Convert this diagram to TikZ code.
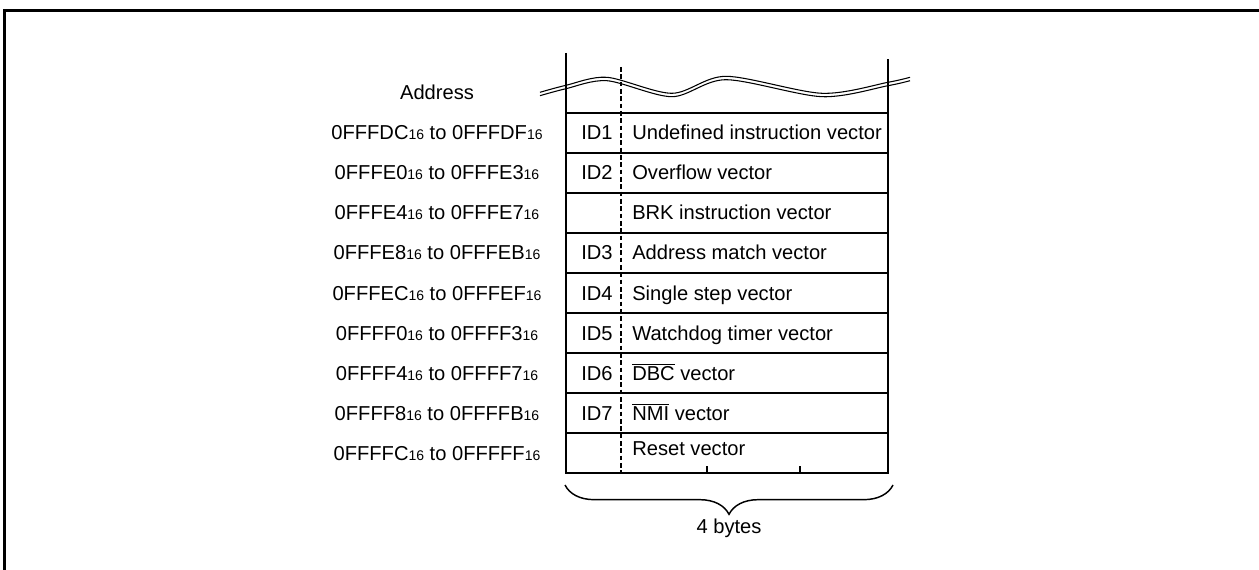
\documentclass[tikz,border=0pt]{standalone}
\usepackage{fontspec}
\setmainfont{Liberation Sans}
\usetikzlibrary{decorations.pathreplacing}

\newcommand{\hexsub}{{\fontsize{10.5}{12}\selectfont 16}}
\newcommand{\barsig}[1]{$\overline{\mbox{#1}}$}

\tikzset{
  txt/.style={font=\fontsize{15.1}{18}\selectfont, inner sep=0pt},
  thickline/.style={line width=2.2pt},
  rowline/.style={line width=1.2pt},
  byteline/.style={line width=1pt, dash pattern=on 3.5pt off 2pt},
  wave/.style={line width=0.8pt},
}

\begin{document}
\begin{tikzpicture}[x=0.75pt,y=-0.75pt]
\useasboundingbox (0,0) rectangle (1259,570);
\draw[line width=2pt] (4.5,570) -- (4.5,10.5) -- (1259,10.5);

\coordinate (TL) at (566,113); \coordinate (TR) at (888,113);
\coordinate (BL) at (566,473); \coordinate (BR) at (888,473);
\coordinate (DT) at (621,67);  \coordinate (DB) at (621,473);

% break in the map
\foreach \s in {-1.7,1.7}
  \draw[wave, yshift=\s*0.75pt] plot[smooth] coordinates {(540,94) (566,87) (607,79) (672,95) (726,78) (822,95) (888,84) (910,79)};

\draw[thickline] (566,53) -- (BL) -- (BR) -- (888,59);
\draw[rowline] (TL) -- (TR);
\foreach \k in {1,...,8} \draw[rowline] (566,113+40*\k) -- (888,113+40*\k);
\draw[byteline] (DT) -- (DB);
\draw[rowline] (707,466) -- (707,473) (800,466) -- (800,473);

\node[txt, anchor=base] (addr) at (437,100) {Address};
\foreach \alo/\ahi/\aid/\atext/\dy [count=\k] in {
  0FFFDC/0FFFDF/ID1/Undefined instruction vector/0,
  0FFFE0/0FFFE3/ID2/Overflow vector/0,
  0FFFE4/0FFFE7//BRK instruction vector/0,
  0FFFE8/0FFFEB/ID3/Address match vector/0,
  0FFFEC/0FFFEF/ID4/Single step vector/0,
  0FFFF0/0FFFF3/ID5/Watchdog timer vector/0,
  0FFFF4/0FFFF7/ID6/\barsig{DBC} vector/0,
  0FFFF8/0FFFFB/ID7/\barsig{NMI} vector/0,
  0FFFFC/0FFFFF//Reset vector/-5}
{
  \node[txt, anchor=base] (a\k) at (437,100+40*\k) {\alo\hexsub{} to \ahi\hexsub};
  \node[txt, anchor=base] (id\k) at (597,100+40*\k) {\aid};
  \node[txt, anchor=base west] (v\k) at (632,100+40*\k+\dy) {\atext};
}

% 4 bytes
\coordinate (bl) at (565,485); \coordinate (br) at (893,485);
\draw[line width=1.1pt, decorate, decoration={brace, mirror, amplitude=22pt}] (bl) -- (br);
\node[txt, anchor=base] (bytes) at (729,533) {4 bytes};
\end{tikzpicture}
\end{document}
